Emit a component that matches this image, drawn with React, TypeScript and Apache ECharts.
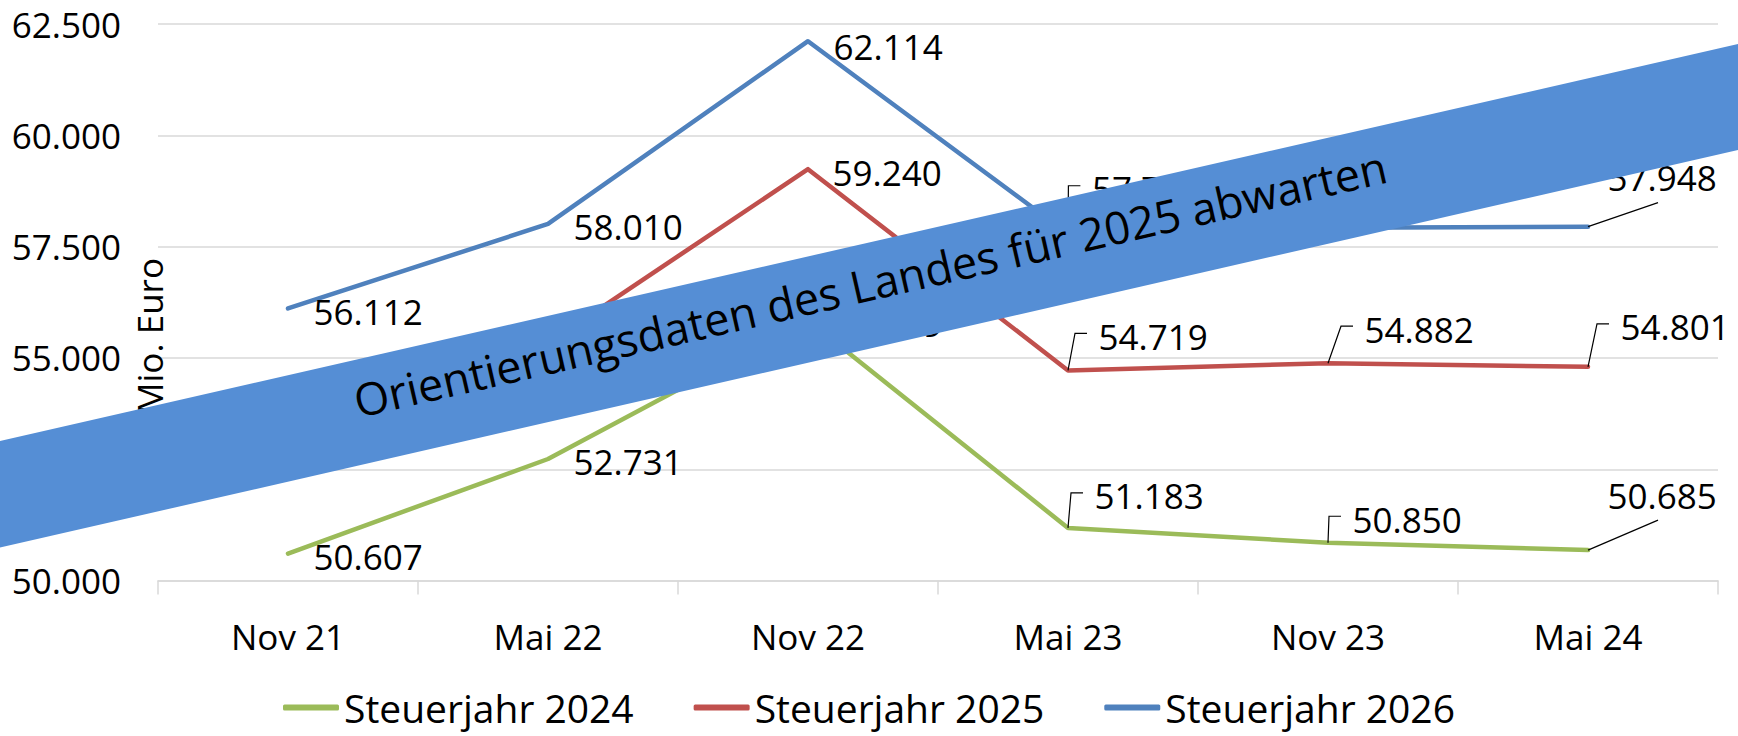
import React, { useEffect, useRef } from "react";
import * as echarts from "echarts";

// ---- data ----
const categories = ["Nov 21", "Mai 22", "Nov 22", "Mai 23", "Nov 23", "Mai 24"];
const seriesNames = ["Steuerjahr 2024", "Steuerjahr 2025", "Steuerjahr 2026"];
const steuerjahr2024 = [50607, 52731, 55839, 51183, 50850, 50685];
const steuerjahr2025 = [53500, 55330, 59240, 54719, 54882, 54801];
const steuerjahr2026 = [56112, 58010, 62114, 57790, 57925, 57948];
const yMin = 50000;
const yMax = 62500;
const yStep = 2500;
const bannerText = "Orientierungsdaten des Landes für 2025 abwarten";
const axisTitle = "Mio. Euro";

// ---- label layout (pixel offsets of label left/centre from point; leader kind) ----
// kind: 0 = no leader, 1 = hook leader, 2 = diagonal leader
const layout2024 = [[25, 3, 0], [25, 3, 0], [25, 3, 0], [26, -32, 1], [24, -23.5, 1], [19, -55, 2]];
const layout2025 = [[25, 3, 0], [25, 3, 0], [24, 3, 0], [30, -34, 1], [36, -34, 1], [32, -40, 1]];
const layout2026 = [[25, 3, 0], [25, 3, 0], [25, 5.5, 0], [23.4, -45, 1], [30, -40, 1], [19, -49, 2]];

const COLORS = ["#9BBB59", "#C0504D", "#4F81BD"];
const FONT = "'Open Sans', 'Noto Sans', sans-serif";

const fmt = (v: number) => {
  const t = Math.floor(v / 1000);
  const r = Math.round(v - t * 1000);
  return t + "." + String(r).padStart(3, "0");
};

export default function App() {
  const ref = useRef<HTMLDivElement>(null);
  useEffect(() => {
    if (!ref.current) return;
    const chart = echarts.init(ref.current, undefined, { renderer: "svg" });
    const allValues = [steuerjahr2024, steuerjahr2025, steuerjahr2026];
    const allLayouts = [layout2024, layout2025, layout2026];

    const lineSeries = allValues.map((vals, s) => ({
      type: "line",
      name: seriesNames[s],
      data: vals.map((v, i) => ({
        value: v,
        label: { offset: [allLayouts[s][i][0], allLayouts[s][i][1]] },
      })),
      symbol: "circle",
      symbolSize: 1,
      showSymbol: true,
      showAllSymbol: true,
      itemStyle: { color: COLORS[s] },
      lineStyle: { color: COLORS[s], width: 4.5, cap: "round", join: "round" },
      label: {
        show: true,
        position: "right",
        distance: 0,
        formatter: (p: any) => fmt(p.value),
        color: "#000",
        fontSize: 35,
        fontFamily: FONT,
      },
      emphasis: { disabled: true },
      z: 2,
    }));

    const leaderData: number[][] = [];
    allValues.forEach((vals, s) => {
      vals.forEach((v, i) => {
        const l = allLayouts[s][i];
        if (l[2] !== 0) leaderData.push([i, v, l[0], l[1], l[2]]);
      });
    });

    const leaderSeries = {
      type: "custom",
      name: "leaders",
      silent: true,
      z: 3,
      encode: { x: 0, y: 1 },
      data: leaderData,
      renderItem: (_params: any, api: any) => {
        const p = api.coord([api.value(0), api.value(1)]);
        const dx = api.value(2);
        const dy = api.value(3);
        const kind = api.value(4);
        let pts: number[][];
        if (kind === 1) {
          pts = [
            [p[0], p[1]],
            [p[0] + dx - 23, p[1] + dy - 3],
            [p[0] + dx - 11, p[1] + dy - 3],
          ];
        } else {
          pts = [
            [p[0], p[1]],
            [p[0] + dx + 51, p[1] + dy + 25],
          ];
        }
        return {
          type: "polyline",
          shape: { points: pts },
          style: { stroke: "#000", lineWidth: 1.2, fill: null },
        };
      },
    };

    chart.setOption({
      animation: false,
      backgroundColor: "#fff",
      grid: { left: 158, right: 20, top: 24, bottom: 155.4, containLabel: false },
      xAxis: {
        type: "category",
        data: categories,
        boundaryGap: true,
        axisLine: { lineStyle: { color: "#d9d9d9", width: 1.5 } },
        axisTick: { show: true, length: 14, lineStyle: { color: "#d9d9d9", width: 1.5 } },
        axisLabel: { margin: 38, fontSize: 35, color: "#000", fontFamily: FONT },
      },
      yAxis: {
        type: "value",
        min: yMin,
        max: yMax,
        interval: yStep,
        axisLine: { show: false },
        axisTick: { show: false },
        splitLine: { lineStyle: { color: "#d9d9d9", width: 1.5 } },
        axisLabel: {
          formatter: (v: number) => fmt(v),
          margin: 37,
          fontSize: 35,
          color: "#000",
          fontFamily: FONT,
        },
      },
      legend: {
        data: seriesNames,
        left: 283,
        top: 688,
        padding: 0,
        itemGap: 60,
        itemWidth: 56,
        itemHeight: 6,
        icon: "roundRect",
        selectedMode: false,
        textStyle: { fontSize: 39, color: "#000", fontFamily: FONT },
      },
      series: [...lineSeries, leaderSeries],
      graphic: [
        {
          type: "text",
          x: 149,
          y: 336,
          rotation: Math.PI / 2,
          z: 50,
          style: {
            text: axisTitle,
            fontSize: 35,
            fontFamily: FONT,
            fill: "#000",
            align: "center",
            verticalAlign: "middle",
          },
        },
        {
          type: "polygon",
          z: 100,
          shape: {
            points: [
              [0, 441],
              [1738, 44],
              [1738, 150],
              [0, 547.5],
            ],
          },
          style: { fill: "#558ED5" },
        },
        {
          type: "text",
          x: 870,
          y: 283,
          rotation: 0.2244,
          z: 101,
          style: {
            text: bannerText,
            fontSize: 45,
            fontFamily: FONT,
            fill: "#000",
            align: "center",
            verticalAlign: "middle",
          },
        },
      ],
    });
    return () => chart.dispose();
  }, []);
  return (
    <div
      ref={ref}
      style={{ position: "absolute", left: 0, top: 0, width: 1738, height: 736 }}
    />
  );
}
